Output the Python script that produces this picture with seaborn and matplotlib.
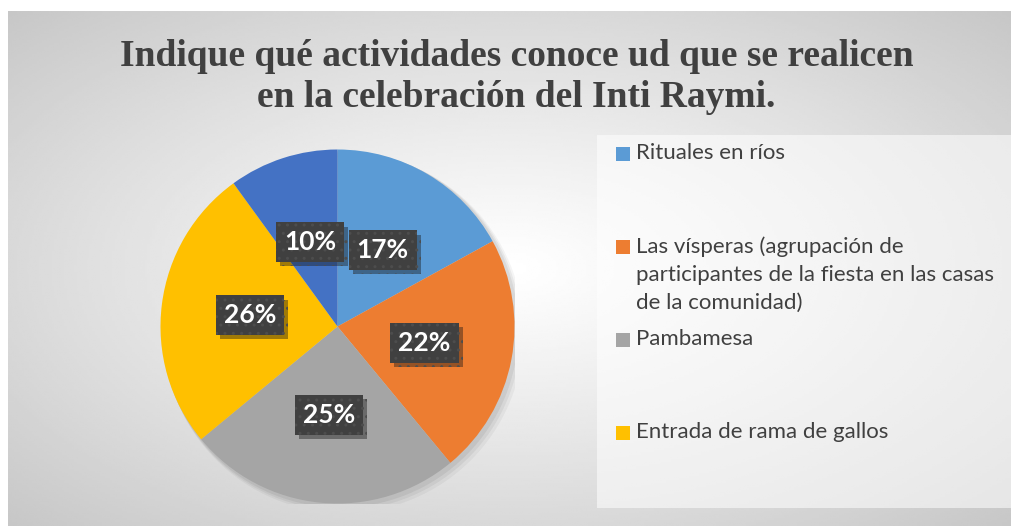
import numpy as np
import seaborn as sns
import matplotlib.pyplot as plt
from matplotlib.patches import Rectangle, Circle
import matplotlib.patheffects as pe

# data
categories = ['Rituales en ríos',
              'Las vísperas (agrupación de\nparticipantes de la fiesta en las casas\nde la comunidad)',
              'Pambamesa',
              'Entrada de rama de gallos',
              'Otros']
percentages = [17, 22, 25, 26, 10]
slice_colors = ['#5B9BD5', '#ED7D31', '#A5A5A5', '#FFC000', '#4472C4']
shown_in_legend = 4  # the last entry is cut off in the original legend box

title = 'Indique qué actividades conoce ud que se realicen\nen la celebración del Inti Raymi.'

sns.set_theme(style='white')
plt.rcParams['font.family'] = ['Lato', 'DejaVu Sans']
palette = sns.color_palette(slice_colors)

W, H = 1011, 526
fig = plt.figure(figsize=(W / 100, H / 100), dpi=100)
fig.patch.set_facecolor('white')

# radial grey background of the chart area
bg = fig.add_axes([8 / W, 0, 1 - 8 / W, 1 - 11 / H], zorder=-5)
gx, gy = np.meshgrid(np.linspace(-1, 1, 400), np.linspace(-1, 1, 220))
dist = np.sqrt(gx ** 2 + gy ** 2) / np.sqrt(2)
shade = 1 - 0.22 * dist ** 1.1
bg.imshow(shade, cmap='gray', vmin=0, vmax=1, aspect='auto', interpolation='bilinear')
bg.axis('off')

# legend panel
fig.patches.append(Rectangle((597 / W, 1 - 508 / H), 1 - 597 / W, (508 - 135) / H,
                             transform=fig.transFigure, facecolor='white', alpha=0.55,
                             edgecolor='none', zorder=1))

# pie
cx, cy, r = 337.5, 326.5, 177
ax = fig.add_axes([(cx - r) / W, (H - cy - r) / H, 2 * r / W, 2 * r / H])
# soft shadow under the pie
for k, a in [(0.035, 0.04), (0.025, 0.05), (0.015, 0.06)]:
    ax.add_patch(Circle((k, -k), 1.0 + k / 2, facecolor='black', alpha=a, edgecolor='none', zorder=0))
wedges, _, autotexts = ax.pie(percentages, colors=palette, startangle=90, counterclock=False,
                              autopct=lambda p: f'{p:.0f}%', pctdistance=0.5,
                              wedgeprops=dict(linewidth=0, zorder=1),
                              textprops=dict(color='white', fontsize=19, fontweight='bold'))
ax.set_xlim(-1, 1)
ax.set_ylim(-1, 1)
ax.axis('off')

for t in autotexts:
    t.set_zorder(5)
    t.set_bbox(dict(boxstyle='square,pad=0.3', facecolor='#404040', edgecolor='#4d4d4d',
                    linewidth=0, hatch='..'))
    t.get_bbox_patch().set_path_effects([pe.SimplePatchShadow(offset=(3, -3), alpha=0.4), pe.Normal()])

# title
fig.text(0.511, 1 - 77 / H, title, ha='center', va='center', fontsize=27, fontweight='bold',
         color='#404040', family='Liberation Serif', linespacing=1.25)

# legend entries
for i in range(shown_in_legend):
    ytop = 154 + i * 93
    fig.patches.append(Rectangle((616 / W, 1 - (ytop + 7) / H), 14 / W, 14 / H,
                                 transform=fig.transFigure, facecolor=palette[i],
                                 edgecolor='none', zorder=2))
    fig.text(636 / W, 1 - (ytop - 11) / H, categories[i], ha='left', va='top', fontsize=16,
             color='#404040', linespacing=1.5)

fig.savefig('out.png', dpi=100)
